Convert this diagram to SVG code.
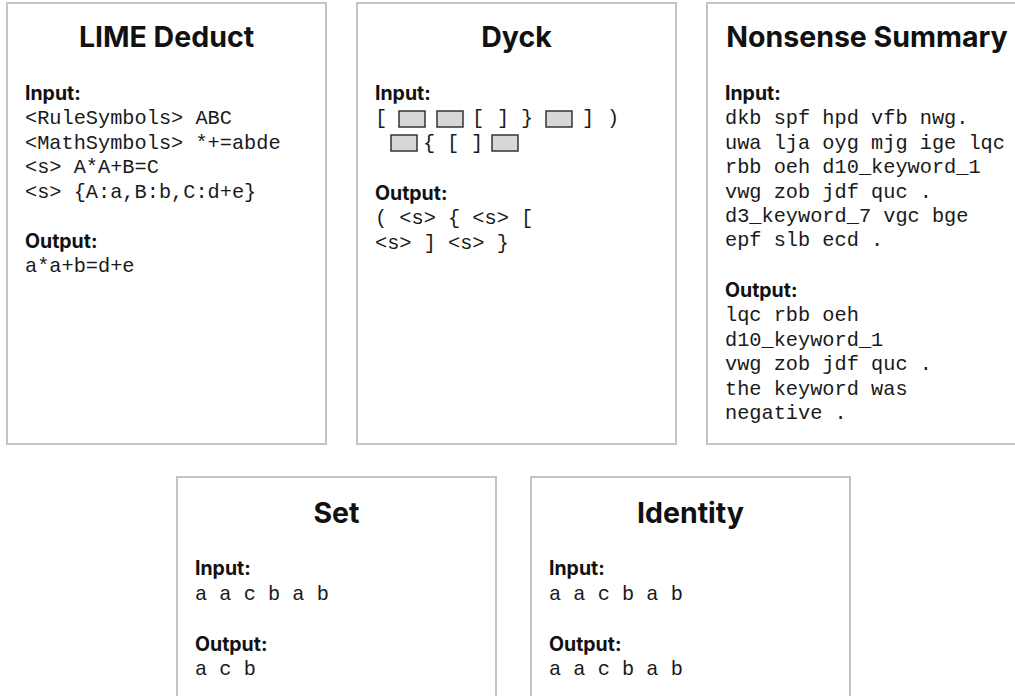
<svg xmlns="http://www.w3.org/2000/svg" width="1015" height="696" viewBox="0 0 1015 696">
<style>
.card{fill:#fff;stroke:#c4c4c4;stroke-width:2}
.title{font-family:Inter,"Noto Sans",sans-serif;font-weight:700;font-size:28.5px;fill:#111;text-anchor:middle}
.lbl{font-family:Inter,"Noto Sans",sans-serif;font-weight:700;font-size:19.5px;fill:#111}
.mono{font-family:"Liberation Mono","DejaVu Sans Mono",monospace;font-size:20.3px;fill:#1a1a1a;white-space:pre}
.ch{font-family:"Liberation Mono","DejaVu Sans Mono",monospace;font-size:20.3px;fill:#1a1a1a;text-anchor:middle}
.blk{fill:#d8d8d8;stroke:#333;stroke-width:1.5}
</style>
<rect width="1015" height="696" fill="#fff"/>
<g id="lime-deduct">
<rect class="card" x="7" y="3" width="319" height="441"/>
<text class="title" x="166.5" y="47">LIME Deduct</text>
<text class="lbl" x="25" y="100">Input:</text>
<text class="mono" x="25" y="124.4">&lt;RuleSymbols&gt; ABC</text>
<text class="mono" x="25" y="148.8">&lt;MathSymbols&gt; *+=abde</text>
<text class="mono" x="25" y="173.2">&lt;s&gt; A*A+B=C</text>
<text class="mono" x="25" y="197.6">&lt;s&gt; {A:a,B:b,C:d+e}</text>
<text class="lbl" x="25" y="248">Output:</text>
<text class="mono" x="25" y="272.4">a*a+b=d+e</text>
</g>
<g id="dyck">
<rect class="card" x="357" y="3" width="319" height="441"/>
<text class="title" x="516.5" y="47">Dyck</text>
<text class="lbl" x="375" y="100">Input:</text>
<text class="ch" x="381" y="124.4">[</text>
<rect class="blk" x="399" y="111" width="26" height="16"/>
<rect class="blk" x="437" y="111" width="26" height="16"/>
<text class="ch" x="478" y="124.4">[</text>
<text class="ch" x="503" y="124.4">]</text>
<text class="ch" x="527" y="124.4">}</text>
<rect class="blk" x="546" y="111" width="26" height="16"/>
<text class="ch" x="588" y="124.4">]</text>
<text class="ch" x="613" y="124.4">)</text>
<rect class="blk" x="391" y="135" width="26" height="16"/>
<text class="ch" x="429" y="148.8">{</text>
<text class="ch" x="453" y="148.8">[</text>
<text class="ch" x="477" y="148.8">]</text>
<rect class="blk" x="492" y="135" width="26" height="16"/>
<text class="lbl" x="375" y="200">Output:</text>
<text class="mono" x="375" y="224.4">( &lt;s&gt; { &lt;s&gt; [</text>
<text class="mono" x="375" y="248.8">&lt;s&gt; ] &lt;s&gt; }</text>
</g>
<g id="nonsense-summary">
<rect class="card" x="707" y="3" width="330" height="441"/>
<text class="title" x="867" y="47">Nonsense Summary</text>
<text class="lbl" x="725" y="100">Input:</text>
<text class="mono" x="725" y="124.4">dkb spf hpd vfb nwg.</text>
<text class="mono" x="725" y="148.8">uwa lja oyg mjg ige lqc</text>
<text class="mono" x="725" y="173.2">rbb oeh d10_keyword_1</text>
<text class="mono" x="725" y="197.6">vwg zob jdf quc .</text>
<text class="mono" x="725" y="222">d3_keyword_7 vgc bge</text>
<text class="mono" x="725" y="246.4">epf slb ecd .</text>
<text class="lbl" x="725" y="297">Output:</text>
<text class="mono" x="725" y="321.4">lqc rbb oeh</text>
<text class="mono" x="725" y="345.8">d10_keyword_1</text>
<text class="mono" x="725" y="370.2">vwg zob jdf quc .</text>
<text class="mono" x="725" y="394.6">the keyword was</text>
<text class="mono" x="725" y="419">negative .</text>
</g>
<g id="set">
<rect class="card" x="177" y="477" width="319" height="260"/>
<text class="title" x="336.5" y="523">Set</text>
<text class="lbl" x="195" y="575">Input:</text>
<text class="mono" x="195" y="599.5">a a c b a b</text>
<text class="lbl" x="195" y="651">Output:</text>
<text class="mono" x="195" y="675">a c b</text>
</g>
<g id="identity">
<rect class="card" x="531" y="477" width="319" height="260"/>
<text class="title" x="690.5" y="523">Identity</text>
<text class="lbl" x="549" y="575">Input:</text>
<text class="mono" x="549" y="599.5">a a c b a b</text>
<text class="lbl" x="549" y="651">Output:</text>
<text class="mono" x="549" y="675">a a c b a b</text>
</g>
<g id="connectors"/>
</svg>
